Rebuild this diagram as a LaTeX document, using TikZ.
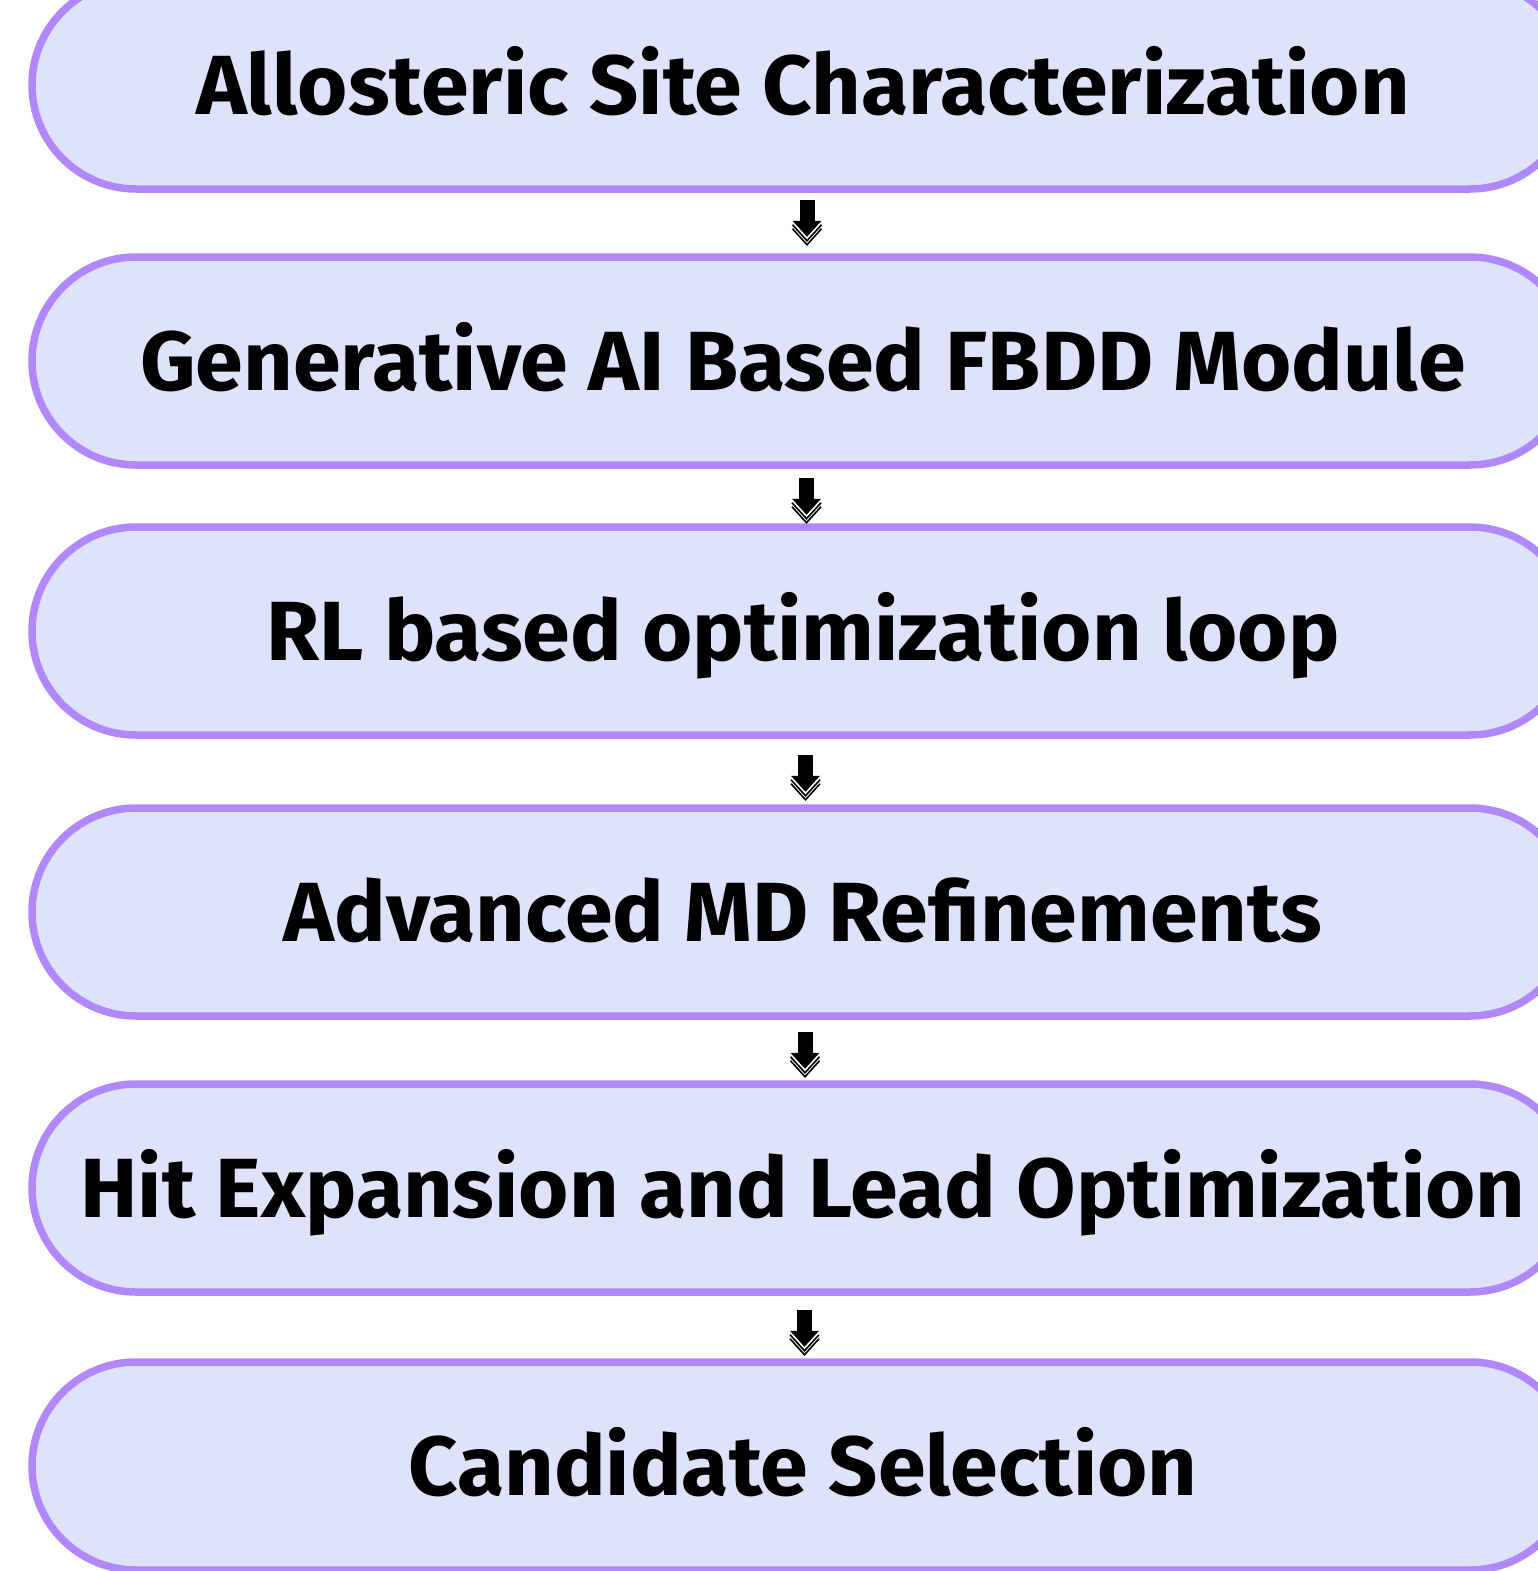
\documentclass[tikz,border=0pt]{standalone}
\usepackage{fontspec}
\setmainfont{Fira Sans}[FakeStretch=1.026]
\usetikzlibrary{calc}
\definecolor{boxfill}{RGB}{223,226,251}
\definecolor{boxline}{RGB}{176,136,250}
\tikzset{
  stage/.style={draw=boxline, fill=boxfill, line width=7.5pt, rounded corners=104pt,
    minimum width=1542pt, minimum height=208pt, inner sep=0pt,
    text height=58pt, text depth=0pt,
    font=\fontsize{84}{90}\selectfont\bfseries, text=black},
  shaft/.style={line width=15pt, black},
  chev/.style={line width=1.6pt, black},
}
\begin{document}
\begin{tikzpicture}[x=1pt,y=-1pt]
\useasboundingbox (0,0) rectangle (1538,1571);
\clip (0,0) rectangle (1538,1571);
\node[stage] (b1) at (803,85) {Allosteric Site Characterization};
\node[stage] (b2) at (803,361) {Generative AI Based FBDD Module};
\node[stage] (b3) at (803,631) {RL based optimization loop};
\node[stage] (b4) at (803,912) {Advanced MD Refinements};
\node[stage] (b5) at (803,1188) {Hit Expansion and Lead Optimization};
\node[stage] (b6) at (803,1466) {Candidate Selection};
\foreach \a/\dx/\dy in {b1/4/7, b2/3.5/9, b3/2.5/16, b4/2/12, b5/1.5/14}{
  \coordinate (t) at ($(\a.south)+(\dx,\dy)$);
  \draw[shaft] (t) -- ($(t)+(0,22)$);
  \fill[black] ($(t)+(-14.5,21)$) -- ($(t)+(14.5,21)$) -- ($(t)+(0,37)$) -- cycle;
  \draw[chev] ($(t)+(-14.5,25)$) -- ($(t)+(0,41)$) -- ($(t)+(14.5,25)$);
  \draw[chev] ($(t)+(-14.5,29)$) -- ($(t)+(0,45)$) -- ($(t)+(14.5,29)$);
}
\end{tikzpicture}
\end{document}
